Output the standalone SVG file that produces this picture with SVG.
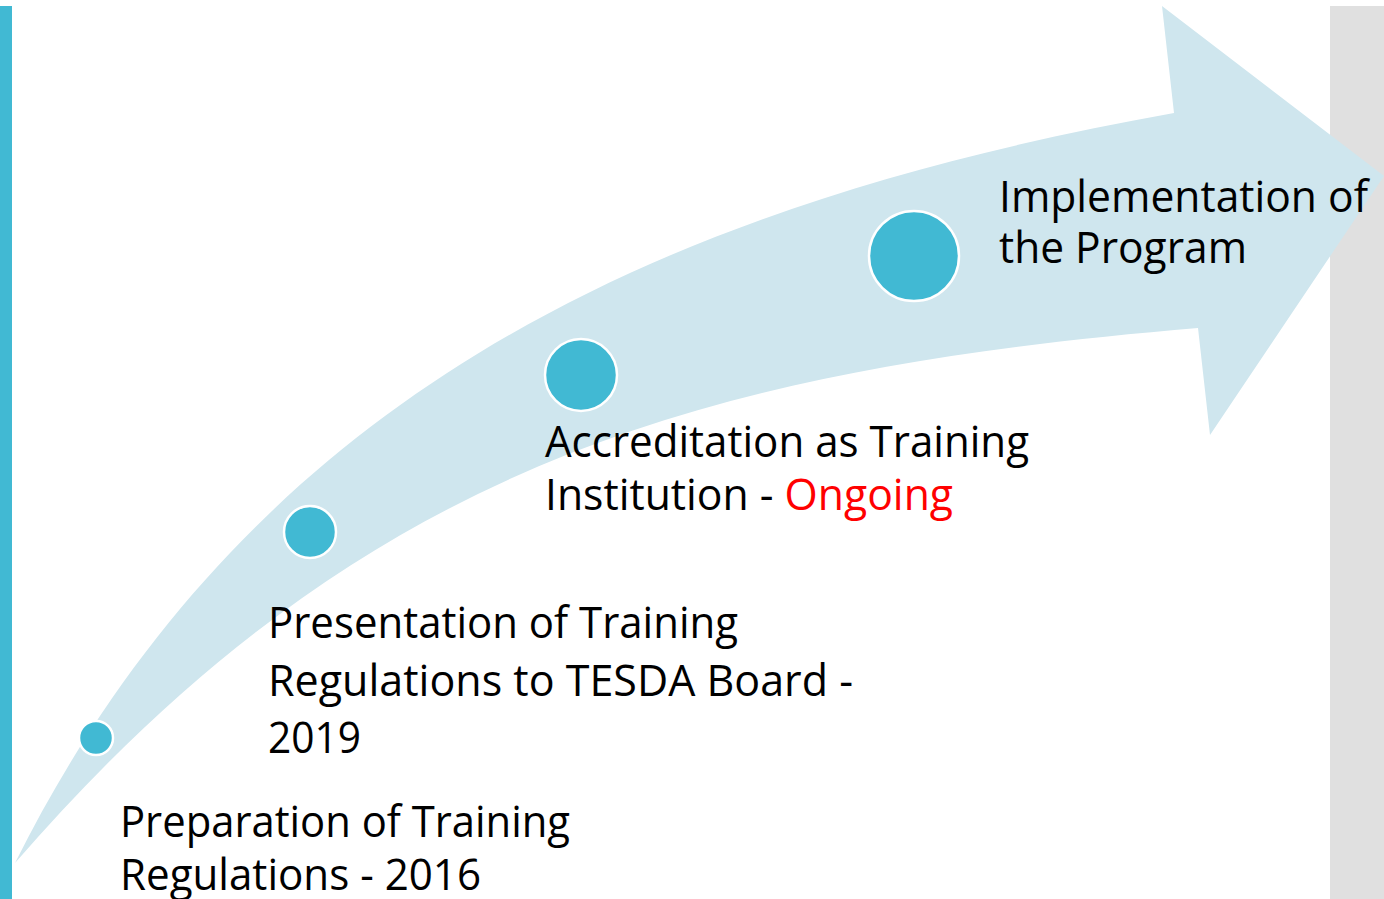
<svg xmlns="http://www.w3.org/2000/svg" width="1384" height="899" viewBox="0 0 1384 899">
<style>
.lbl{font-family:"Open Sans","Noto Sans","Liberation Sans",sans-serif;font-size:43px;fill:#000}
.dot{fill:#41B9D3;stroke:#FFFFFF;stroke-width:2.5}
</style>
<rect x="0" y="0" width="1384" height="899" fill="#FFFFFF"/>
<rect id="left-bar" x="0" y="6" width="12" height="893" fill="#41B9D3"/>
<rect id="right-bar" x="1330" y="6" width="54" height="893" fill="#E0E0E0"/>
<g id="connectors">
<path id="arrow" d="M15,863 C245,403 644,208 1174,113 L1162,6 L1384,176 L1210,435 L1198,328 C700,370 360,465 15,863 Z" fill="#CFE6EE"/>
</g>
<g id="step1">
<circle class="dot" cx="96" cy="738" r="17"/>
<text class="lbl" x="120" y="837" textLength="450" lengthAdjust="spacingAndGlyphs">Preparation of Training</text>
<text class="lbl" x="120" y="890" textLength="361" lengthAdjust="spacingAndGlyphs">Regulations - 2016</text>
</g>
<g id="step2">
<circle class="dot" cx="310" cy="532" r="26"/>
<text class="lbl" x="268" y="638" textLength="470" lengthAdjust="spacingAndGlyphs">Presentation of Training</text>
<text class="lbl" x="268" y="696" textLength="585" lengthAdjust="spacingAndGlyphs">Regulations to TESDA Board -</text>
<text class="lbl" x="268" y="753" textLength="93" lengthAdjust="spacingAndGlyphs">2019</text>
</g>
<g id="step3">
<circle class="dot" cx="581" cy="375" r="36"/>
<text class="lbl" x="545" y="457" textLength="484" lengthAdjust="spacingAndGlyphs">Accreditation as Training</text>
<text class="lbl" x="545" y="510" textLength="408" lengthAdjust="spacingAndGlyphs">Institution - <tspan fill="#FF0000">Ongoing</tspan></text>
</g>
<g id="step4">
<circle class="dot" cx="914" cy="256" r="45"/>
<text class="lbl" x="999" y="212" textLength="369" lengthAdjust="spacingAndGlyphs">Implementation of</text>
<text class="lbl" x="999" y="263" textLength="248" lengthAdjust="spacingAndGlyphs">the Program</text>
</g>
</svg>
